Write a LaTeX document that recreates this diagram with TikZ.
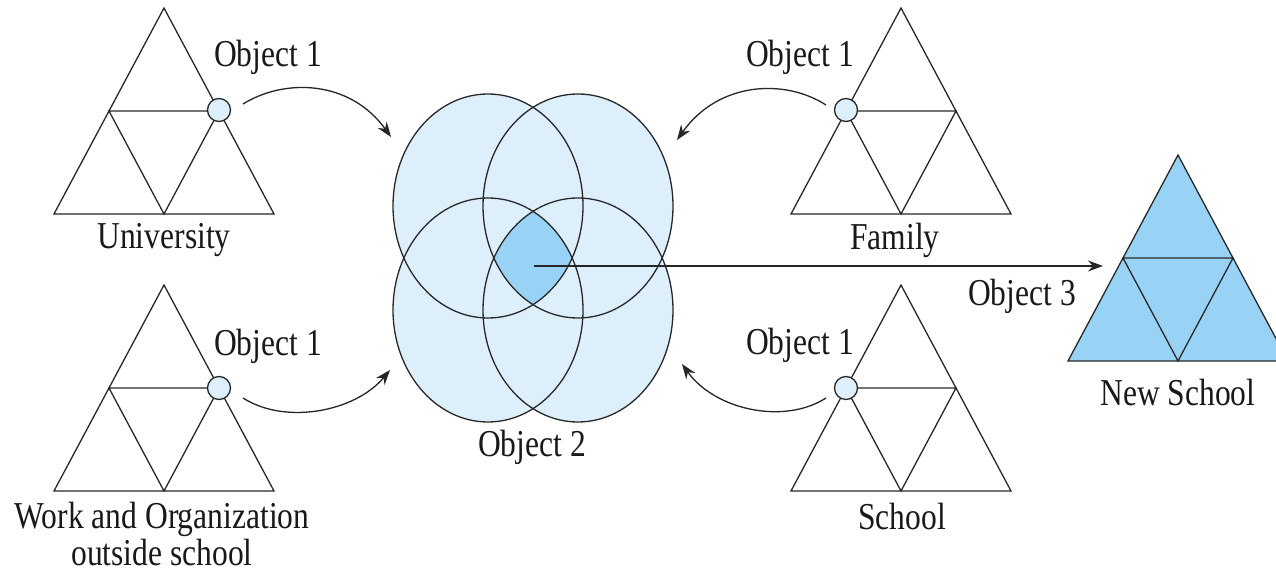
\documentclass[tikz,border=0pt]{standalone}
\usepackage{fontspec}
\setmainfont{Liberation Serif}[FakeStretch=0.83]
\usetikzlibrary{arrows.meta}
\definecolor{lightblue}{RGB}{221,239,251}
\definecolor{darkblue}{RGB}{152,211,245}
\definecolor{linegray}{RGB}{40,40,40}
\tikzset{
  edge/.style={draw=linegray,line width=0.65pt},
  dot/.style={circle,draw=linegray,line width=0.65pt,fill=lightblue,minimum size=11.5pt,inner sep=0pt},
  lbl/.style={font=\fontsize{19}{14.5}\selectfont,text=black!90,inner sep=0pt,align=center},
  flow/.style={draw=black!85,line width=0.65pt,-{Stealth[length=7.5pt,width=5.5pt]}}
}
\newcommand{\tritri}[3]{%
  \draw[edge,fill=#3] (#1,#2) -- ({#1-110},{#2+206}) -- ({#1+110},{#2+206}) -- cycle;
  \draw[edge] ({#1-55},{#2+103}) -- ({#1+55},{#2+103}) -- (#1,{#2+206}) -- cycle;
}
\begin{document}
\begin{tikzpicture}[x=0.5pt,y=-0.5pt]
\useasboundingbox (0,0) rectangle (1276,572);
\fill[white] (0,0) rectangle (1276,572);
% triangles
\tritri{164}{8}{white}
\tritri{164}{285}{white}
\tritri{901}{8}{white}
\tritri{901}{285}{white}
\tritri{1178}{155}{darkblue}
% object 1 dots
\node[dot] (d1) at (219,110) {};
\node[dot] (d2) at (219,388) {};
\node[dot] (d3) at (846,110) {};
\node[dot] (d4) at (846,388) {};
% ellipses
\fill[lightblue] (488,206) ellipse[x radius=95,y radius=112];
\fill[lightblue] (578,206) ellipse[x radius=95,y radius=112];
\fill[lightblue] (488,310) ellipse[x radius=95,y radius=112];
\fill[lightblue] (578,310) ellipse[x radius=95,y radius=112];
\begin{scope}
\clip (488,206) ellipse[x radius=95,y radius=112];
\clip (578,206) ellipse[x radius=95,y radius=112];
\clip (488,310) ellipse[x radius=95,y radius=112];
\clip (578,310) ellipse[x radius=95,y radius=112];
\fill[darkblue] (380,90) rectangle (690,430);
\end{scope}
\draw[edge] (488,206) ellipse[x radius=95,y radius=112];
\draw[edge] (578,206) ellipse[x radius=95,y radius=112];
\draw[edge] (488,310) ellipse[x radius=95,y radius=112];
\draw[edge] (578,310) ellipse[x radius=95,y radius=112];
% labels
\node[lbl] (o1a) at (268,57) {Object 1};
\node[lbl] (uni) at (164,240) {University};
\node[lbl] (o1b) at (268,346) {Object 1};
\node[lbl] (work) at (162,534) {Work and Organization\\outside school};
\node[lbl] (o1c) at (800,57) {Object 1};
\node[lbl] (fam) at (895,240) {Family};
\node[lbl] (o1d) at (800,345) {Object 1};
\node[lbl] (sch) at (902,517) {School};
\node[lbl] (o2) at (532,447) {Object 2};
\node[lbl] (o3) at (1022,296) {Object 3};
\node[lbl] (ns) at (1178,393) {New School};
% arrow ends
\coordinate (s1) at (243,104); \coordinate (t1) at (391,137);
\coordinate (s2) at (243,398); \coordinate (t2) at (390,370);
\coordinate (s3) at (826,105); \coordinate (t3) at (677,140);
\coordinate (s4) at (826,398); \coordinate (t4) at (682,364);
\coordinate (cc) at (534,266); \coordinate (nt) at (1103,266);
\draw[flow] (s1) .. controls (285,78) and (350,80) .. (t1);
\draw[flow] (s2) .. controls (285,425) and (355,412) .. (t2);
\draw[flow] (s3) .. controls (784,78) and (718,82) .. (t3);
\draw[flow] (s4) .. controls (784,425) and (715,410) .. (t4);
\draw[flow] (cc) -- (nt);
\end{tikzpicture}
\end{document}
